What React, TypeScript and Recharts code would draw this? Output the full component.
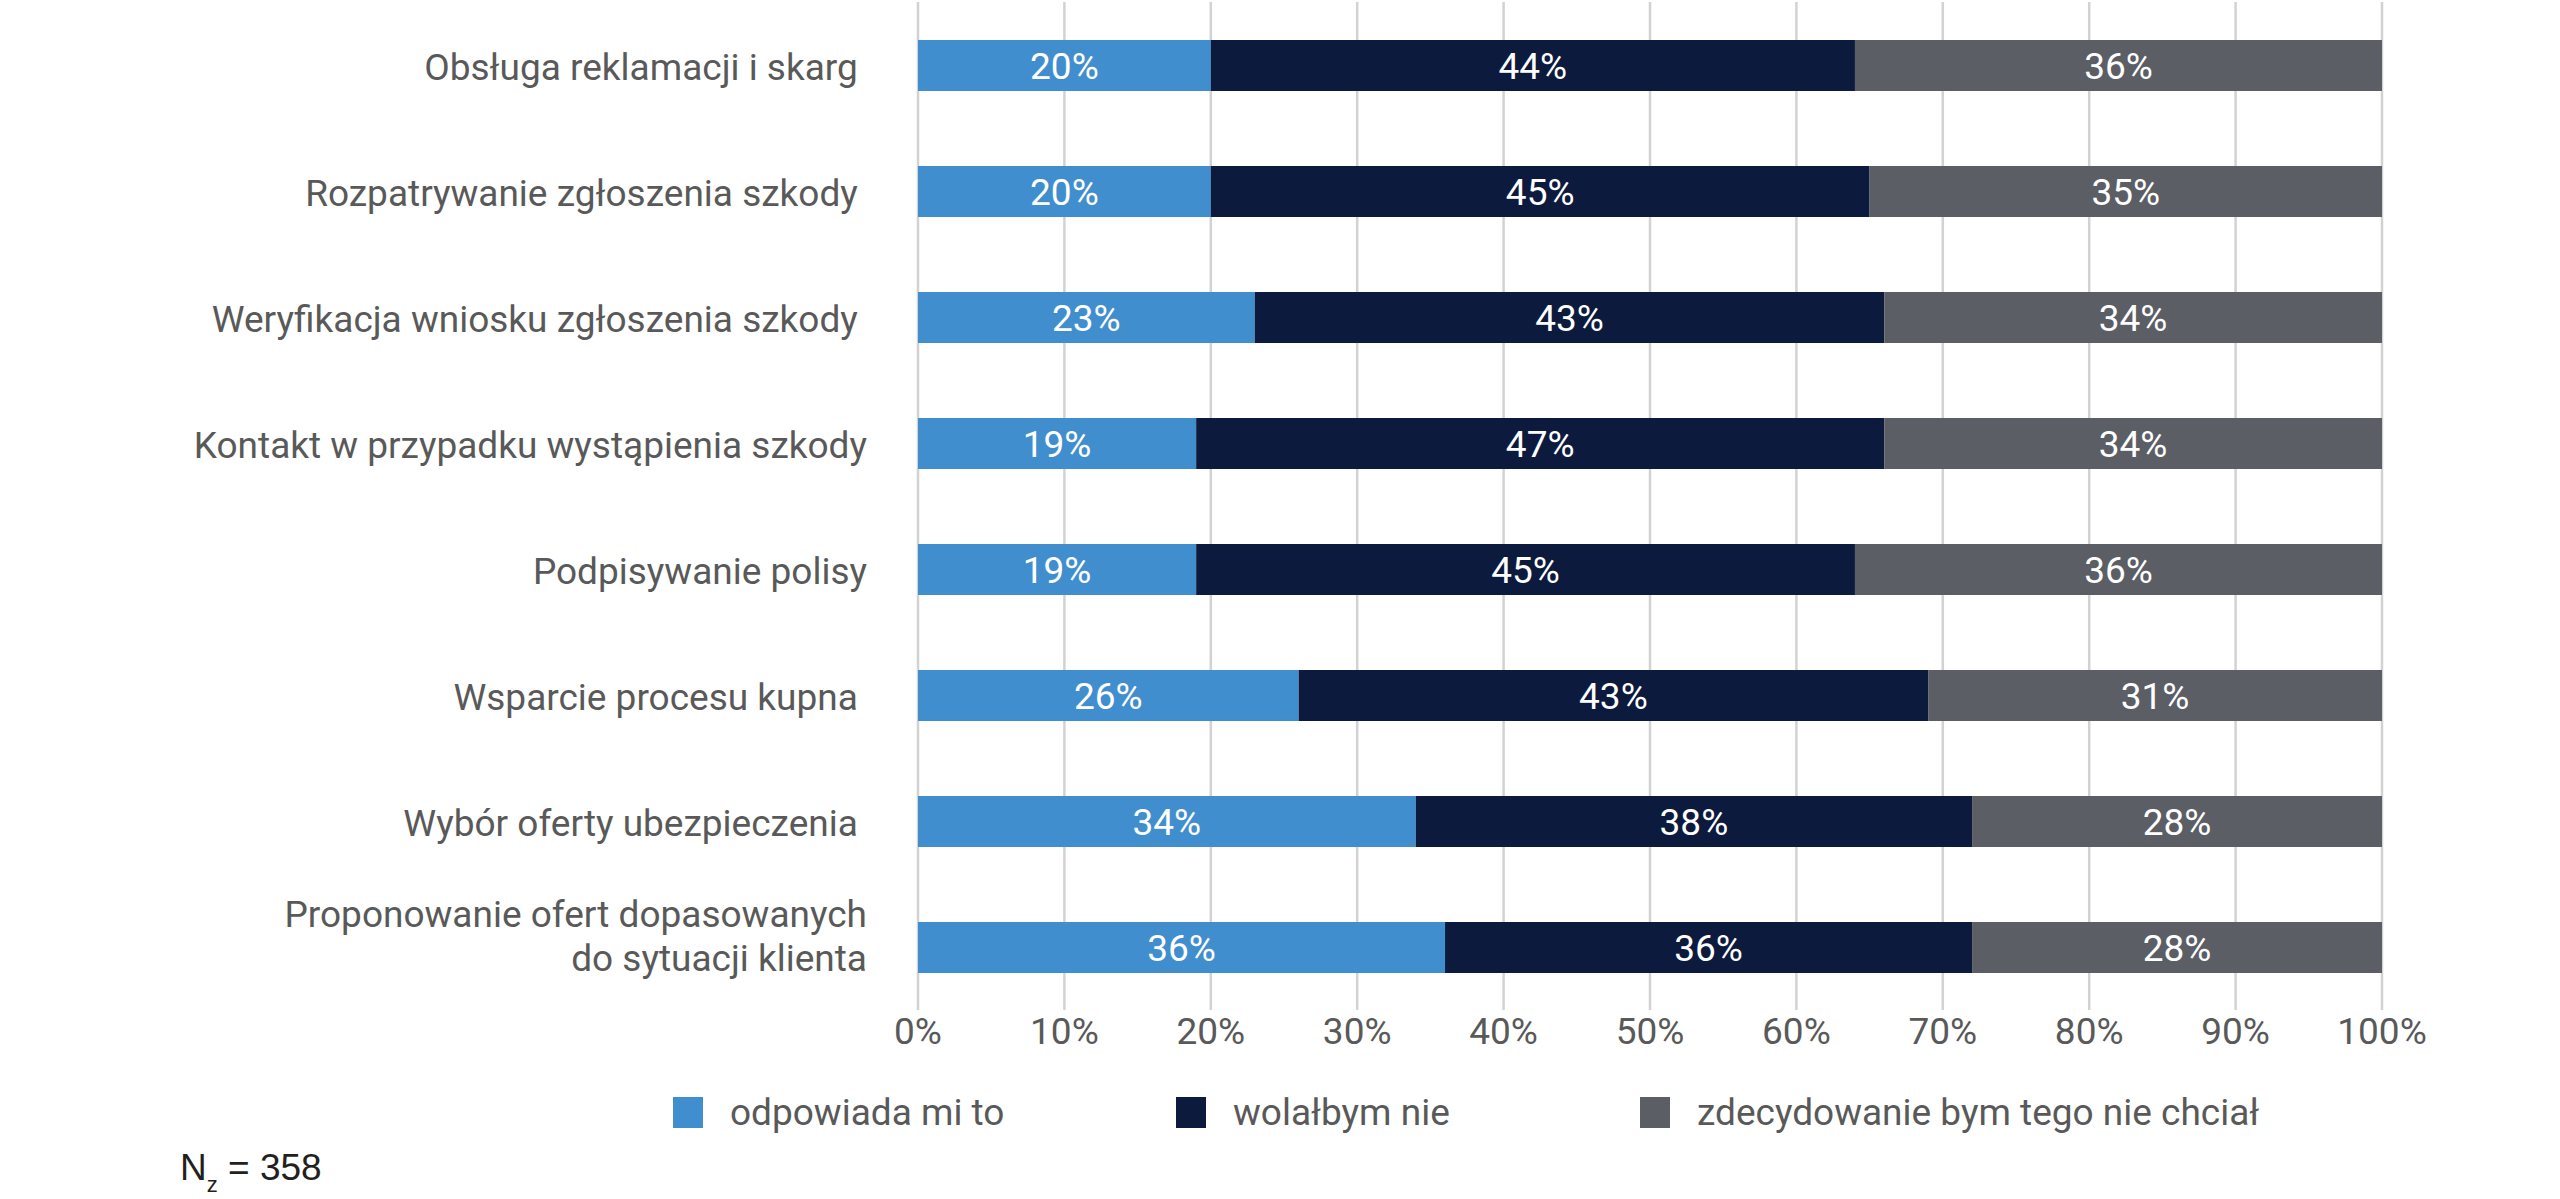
import React from 'react';
import { BarChart, Bar, XAxis, YAxis, CartesianGrid, LabelList, Legend } from 'recharts';

const categories = [
  'Obsługa reklamacji i skarg\u00A0',
  'Rozpatrywanie zgłoszenia szkody\u00A0',
  'Weryfikacja wniosku zgłoszenia szkody\u00A0',
  'Kontakt w przypadku wystąpienia szkody',
  'Podpisywanie polisy',
  'Wsparcie procesu kupna\u00A0',
  'Wybór oferty ubezpieczenia\u00A0',
  'Proponowanie ofert dopasowanych\ndo sytuacji klienta',
];
const odpowiada = [20, 20, 23, 19, 19, 26, 34, 36];
const wolalbym = [44, 45, 43, 47, 45, 43, 38, 36];
const zdecydowanie = [36, 35, 34, 34, 36, 31, 28, 28];
const xTicks = [0, 10, 20, 30, 40, 50, 60, 70, 80, 90, 100];
const seriesKeys = ['odpowiada', 'wolalbym', 'zdecydowanie'];
const seriesNames = ['odpowiada mi to', 'wolałbym nie', 'zdecydowanie bym tego nie chciał'];
const seriesColors = ['#418ECF', '#0C1A3D', '#5B5E65'];
const legendItemWidths = [503, 464, undefined];

const data = categories.map((c, i) => ({
  category: c,
  odpowiada: odpowiada[i],
  wolalbym: wolalbym[i],
  zdecydowanie: zdecydowanie[i],
}));

const TEXT = '#595959';
const FS = 37;

const CategoryTick = (props: any) => {
  const { x, y, payload } = props;
  const lines = String(payload.value).split('\n');
  if (lines.length === 1) {
    return (
      <text x={x} y={y} dy={15} textAnchor="end" fill={TEXT} fontSize={FS} fontFamily="Roboto">
        {lines[0]}
      </text>
    );
  }
  return (
    <text x={x} y={y} textAnchor="end" fill={TEXT} fontSize={FS} fontFamily="Roboto">
      {lines.map((l, i) => (
        <tspan key={i} x={x} dy={i === 0 ? -20 : 44}>
          {l}
        </tspan>
      ))}
    </text>
  );
};

const LegendContent = () => (
  <div
    style={{
      display: 'flex',
      alignItems: 'center',
      fontFamily: 'Roboto',
      fontSize: FS,
      color: TEXT,
      lineHeight: '43px',
    }}
  >
    {seriesNames.map((n, i) => (
      <div
        key={n}
        style={{ display: 'flex', alignItems: 'center', width: legendItemWidths[i], flexShrink: 0 }}
      >
        <span
          style={{
            display: 'inline-block',
            width: 30,
            height: 31,
            background: seriesColors[i],
            marginRight: 27,
            flexShrink: 0,
          }}
        />
        <span style={{ whiteSpace: 'nowrap' }}>{n}</span>
      </div>
    ))}
  </div>
);

export default function App() {
  return (
    <div
      style={{
        position: 'absolute',
        top: 0,
        left: 0,
        width: 2560,
        height: 1199,
        background: '#fff',
        fontFamily: 'Roboto',
      }}
    >
      <BarChart
        width={2560}
        height={1199}
        data={data}
        layout="vertical"
        margin={{ top: 2, right: 178, left: 0, bottom: 129 }}
      >
        <CartesianGrid horizontal={false} stroke="#D2D2D2" strokeWidth={2.5} />
        <XAxis
          type="number"
          domain={[0, 100]}
          ticks={xTicks}
          tickFormatter={(v: number) => `${v}%`}
          axisLine={false}
          tickLine={false}
          tickSize={0}
          tickMargin={8}
          height={60}
          interval={0}
          tick={{ fill: TEXT, fontSize: FS, fontFamily: 'Roboto' }}
        />
        <YAxis
          type="category"
          dataKey="category"
          width={918}
          axisLine={false}
          tickLine={false}
          tickSize={0}
          tickMargin={51}
          interval={0}
          tick={<CategoryTick />}
        />
        <Legend
          layout="horizontal"
          verticalAlign="middle"
          align="center"
          content={<LegendContent />}
          wrapperStyle={{ left: 673, top: 1091, width: 'auto', margin: 0 }}
        />
        {seriesKeys.map((k, i) => (
          <Bar
            key={k}
            dataKey={k}
            name={seriesNames[i]}
            stackId="s"
            fill={seriesColors[i]}
            barSize={51}
            isAnimationActive={false}
          >
            <LabelList
              dataKey={k}
              position="center"
              fill="#FFFFFF"
              fontSize={FS}
              fontFamily="Roboto"
              formatter={(v: any) => `${v}%`}
            />
          </Bar>
        ))}
      </BarChart>
      <svg
        width={400}
        height={80}
        style={{ position: 'absolute', left: 150, top: 1130 }}
      >
        <text x={30} y={50} fontFamily="Liberation Sans, Arial" fontSize={37} fill="#231F20">
          N
          <tspan fontSize={22} dy={12}>z</tspan>
          <tspan fontSize={37} dy={-12}>{' = 358'}</tspan>
        </text>
      </svg>
    </div>
  );
}
